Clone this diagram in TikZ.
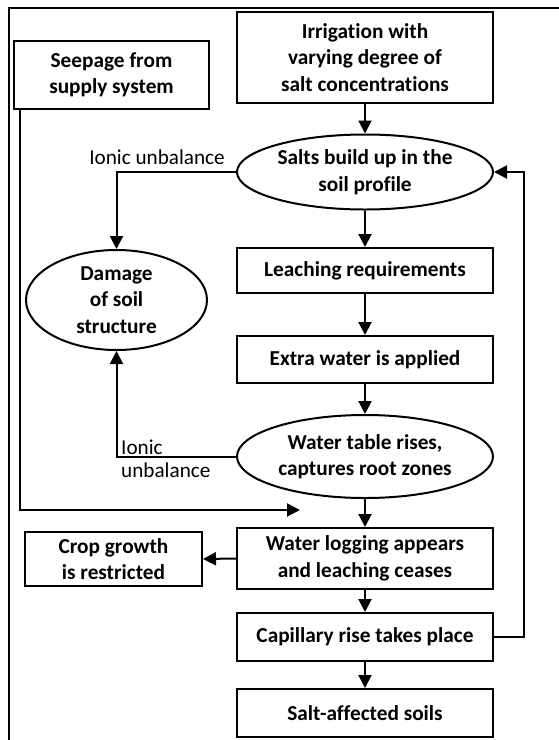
\documentclass[tikz,border=0pt]{standalone}
\usepackage{fontspec}
\setmainfont{Carlito}[Ligatures={NoCommon,NoRare}]
\usetikzlibrary{shapes.geometric,arrows.meta,calc}
\tikzset{
  every node/.style={font=\fontsize{21.3}{26.5}\selectfont\bfseries, align=center, inner sep=0pt},
  boxnode/.style={draw, line width=2pt, rectangle},
  ellnode/.style={draw, line width=2pt, ellipse},
  lbl/.style={font=\fontsize{21.2}{23}\selectfont},
  conn/.style={line width=2pt, -{Triangle[length=13pt,width=13pt]}},
}
\begin{document}
\begin{tikzpicture}[x=1pt,y=-1pt]
\useasboundingbox (0,0) rectangle (559,740);
\draw[line width=2.6pt] (9,740) -- (9,8) -- (559,8);
\node[boxnode, minimum width=256pt, minimum height=91pt] (irr) at (365,57.5) {Irrigation with\\varying degree of\\salt concentrations};
\node[boxnode, minimum width=195pt, minimum height=68pt] (seep) at (111.5,75) {Seepage from\\supply system};
\node[ellnode, minimum width=256pt, minimum height=75pt] (salts) at (365,172) {Salts build up in the\\soil profile};
\node[boxnode, minimum width=256pt, minimum height=45pt] (leach) at (365,270.5) {Leaching requirements};
\node[ellnode, minimum width=181pt, minimum height=100pt] (dam) at (116.5,300) {Damage\\of soil\\structure};
\node[boxnode, minimum width=256pt, minimum height=47pt] (extra) at (365,359.5) {Extra water is applied};
\node[ellnode, minimum width=256pt, minimum height=83pt] (wt) at (365,456.5) {Water table rises,\\captures root zones};
\node[boxnode, minimum width=256pt, minimum height=61pt] (wl) at (365,558.5) {Water logging appears\\and leaching ceases};
\node[boxnode, minimum width=177pt, minimum height=54pt] (crop) at (113.5,559) {Crop growth\\is restricted};
\node[boxnode, minimum width=256pt, minimum height=48pt] (cap) at (365,637) {Capillary rise takes place};
\node[boxnode, minimum width=256pt, minimum height=48pt] (saf) at (365,713) {Salt-affected soils};
\node[lbl, anchor=east] (ion1) at (225,157) {Ionic unbalance};
\node[lbl, anchor=west, align=left] (ion2) at (121,459) {Ionic\\unbalance};
\coordinate (seepend) at (300,510);
\coordinate (fb) at (524,637);
\draw[conn] (irr) -- (salts);
\draw[conn] (salts) -- (leach);
\draw[conn] (leach) -- (extra);
\draw[conn] (extra) -- (wt);
\draw[conn] (wt) -- (wl);
\draw[conn] (wl) -- (cap);
\draw[conn] (cap) -- (saf);
\draw[conn] (wl.west) -- (crop.east);
\draw[conn] (salts.west) -| (dam.north);
\draw[conn] (wt.west) -| (dam.south);
\draw[conn] ($(seep.south west)+(7,0)$) |- (seepend);
\draw[conn] (cap.east) -- (fb) |- (salts.east);
\end{tikzpicture}
\end{document}
